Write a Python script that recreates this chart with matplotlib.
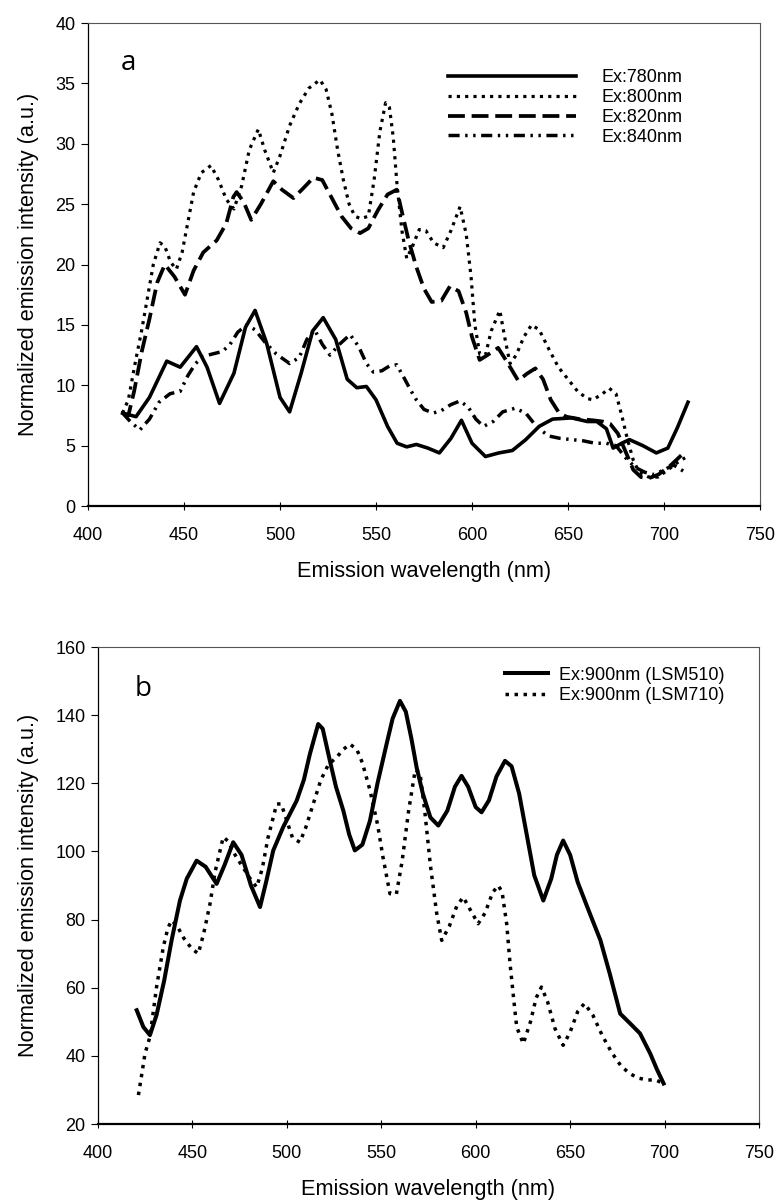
import matplotlib
matplotlib.use('Agg')
import matplotlib.pyplot as plt

plt.rcParams['font.family'] = ['Liberation Sans', 'DejaVu Sans']

# ---- panel a : emission spectra at four excitation wavelengths ----
x780 = [418, 425, 432, 441, 448, 456.5, 462, 468.5, 476, 482, 487, 493, 500, 505, 511, 517, 522.5, 529, 535,
        540, 545, 550, 556, 561, 566, 571, 577, 583, 589, 594.5, 600, 607, 614, 621, 628, 635, 642, 652, 660,
        665, 670, 673.5, 678, 682, 689, 696, 702, 707, 712.5]
y780 = [7.7, 7.4, 9.0, 12.0, 11.5, 13.2, 11.5, 8.5, 11.0, 14.8, 16.2, 13.5, 9.0, 7.8, 11.0, 14.5, 15.6, 13.8, 10.5,
        9.8, 9.9, 8.8, 6.6, 5.2, 4.9, 5.1, 4.8, 4.4, 5.6, 7.1, 5.2, 4.1, 4.4, 4.6, 5.5, 6.6, 7.2, 7.3, 7.0,
        7.0, 6.4, 4.8, 5.2, 5.5, 5.0, 4.4, 4.8, 6.5, 8.6]

x800 = [418, 421, 424.5, 428, 431, 434, 437.5, 440, 443, 446, 449, 452, 455, 459, 464, 468, 472, 476, 480, 484,
        488.7, 492, 496.5, 500, 505, 510, 515, 520.8, 524, 527, 530, 533, 536, 539, 542, 546, 549, 552, 555,
        557, 559, 561, 563.5, 566, 569, 572.5, 576, 580, 585, 589, 593.8, 597, 599.5, 601.5, 604, 607, 610,
        614.5, 617, 619.8, 623, 627, 631, 635, 640, 645, 650, 655, 660, 663, 668, 671.5, 675, 678, 681, 684,
        687, 692, 697, 702, 707, 711]
y800 = [7.7, 8.8, 11.8, 14.6, 17.3, 20.0, 21.8, 21.5, 20.2, 19.6, 21.0, 23.5, 26.0, 27.6, 28.2, 27.0, 25.4, 24.6,
        26.5, 29.5, 31.2, 29.5, 27.6, 29.0, 31.5, 33.3, 34.6, 35.3, 34.5, 32.5, 29.5, 27.0, 25.0, 24.0, 23.8,
        24.0, 27.0, 31.0, 33.4, 33.0, 30.5, 26.5, 22.8, 20.5, 21.5, 22.9, 22.8, 21.8, 21.4, 22.8, 24.8, 22.5,
        19.0, 15.0, 12.6, 12.5, 14.5, 16.2, 14.0, 11.8, 12.5, 14.0, 15.0, 14.6, 13.0, 11.5, 10.5, 9.5, 8.9,
        8.8, 9.3, 9.75, 9.3, 7.5, 5.5, 3.8, 2.8, 2.4, 2.4, 3.0, 3.6, 4.0]

x820 = [418, 421, 424, 428, 432, 436, 440, 445, 450.5, 455, 460, 467, 472, 475.7, 477.4, 481, 485, 490, 496.5,
        501, 507, 512, 517.4, 522, 527, 532, 537, 541.7, 546, 551, 556, 560.8, 564, 567, 571, 575, 579, 584,
        588.5, 593, 597, 600, 604, 608, 613.6, 618, 624, 629, 633, 637, 641, 645, 649, 656, 663, 668, 672,
        676, 680, 684, 688, 692, 697, 703, 709]
y820 = [7.7, 7.5, 9.5, 12.8, 15.5, 18.5, 20.0, 19.0, 17.5, 19.5, 21.0, 22.0, 23.4, 25.6, 26.0, 25.2, 23.7, 25.0,
        26.9, 26.2, 25.5, 26.3, 27.2, 27.0, 25.5, 24.0, 23.0, 22.6, 23.0, 24.5, 25.8, 26.2, 24.0, 22.0, 19.8,
        18.0, 16.9, 17.0, 18.2, 17.8, 16.0, 14.0, 12.1, 12.5, 13.1, 12.0, 10.4, 11.0, 11.4, 10.5, 8.8, 7.8,
        7.4, 7.2, 7.1, 7.0, 6.8, 6.0, 4.5, 3.0, 2.4, 2.3, 2.6, 3.3, 4.2]

x840 = [418, 422, 427, 432, 437, 442.7, 448, 452, 456, 460, 465, 470, 474, 478, 482.6, 487, 492, 498, 505, 510,
        514, 518, 522, 526, 531, 536.5, 541, 545, 548.6, 553, 557, 560.8, 565, 568, 571, 575, 579.8, 584, 589,
        593.7, 598, 602, 606, 611, 616, 622.4, 628, 634, 640, 646, 652, 658, 664, 670, 675, 680, 685, 690,
        695, 700, 705, 711]
y840 = [7.7, 7.0, 6.3, 7.2, 8.6, 9.3, 9.5, 10.8, 11.8, 12.4, 12.6, 12.8, 13.4, 14.4, 15.0, 14.6, 13.6, 12.6,
        11.8, 12.3, 13.8, 14.6, 13.4, 12.5, 13.4, 14.2, 13.2, 11.8, 11.1, 11.2, 11.6, 11.7, 10.5, 9.6, 8.8,
        8.0, 7.7, 7.9, 8.4, 8.7, 8.2, 7.2, 6.6, 7.0, 7.8, 8.1, 7.7, 6.5, 5.8, 5.6, 5.5, 5.4, 5.2, 5.2, 5.0,
        4.0, 3.2, 2.8, 2.6, 3.0, 3.4, 2.8]

# ---- panel b : 900 nm excitation on two microscopes ----
x510 = [420.5, 424, 427.5, 431, 435, 439, 443.4, 447, 452.2, 457, 462.8, 467, 471.6, 476, 481, 485.8, 489,
        492.8, 498, 505.2, 509, 512.2, 516.6, 519, 522.8, 526, 529.9, 533, 536, 540, 544, 548, 552.8, 556,
        559.9, 563, 566, 568.7, 572, 576, 580.2, 585, 589, 592.5, 596, 600, 603.1, 607, 611, 615.5, 619, 623,
        627, 631, 635.8, 640, 643, 646.3, 650, 654, 658.6, 661, 666, 671, 676.5, 681.8, 687, 692.4, 696, 699.5]
y510 = [53.4, 48.5, 46.1, 52, 62, 74, 85.6, 92, 97.3, 95.5, 90.5, 96, 102.7, 99, 90, 83.7, 91, 100.3, 107.1,
        114.9, 121, 128.6, 137.4, 136, 126.6, 119, 112, 105, 100.3, 102, 109, 120, 131.5, 139, 144.2, 141, 133,
        124.7, 117, 110, 107.6, 112, 119, 122.2, 119, 113, 111.5, 115, 122, 126.6, 125, 117, 105, 93, 85.6, 92,
        99, 103.2, 99, 91, 84.4, 81, 74, 64.1, 52.4, 49.5, 46.6, 40.7, 36, 31.9]

x710 = [421.4, 423, 424.9, 427.5, 431, 434.6, 437, 439, 442, 445.5, 449.6, 453.1, 456, 459.3, 462, 466.3, 469,
        472, 476, 480, 484, 487, 490, 494.6, 497, 500, 503, 506.9, 510, 514, 518, 522, 526.3, 530, 533.4, 537,
        540, 544, 548, 551, 554.6, 558, 561, 564.5, 568, 570.5, 573, 576, 579.3, 582, 586, 590, 593.4, 597,
        601.3, 605, 609, 612, 614, 616.4, 618.2, 620, 621.7, 625.2, 629, 632, 634.8, 638, 642, 646.3, 650, 654,
        657.6, 662, 667, 672, 677, 681.6, 686, 691.2, 695, 699.5]
y710 = [28.5, 34, 40.7, 45.6, 60.2, 72, 77.5, 79.8, 78, 74.5, 71.5, 70, 76, 84.6, 94, 104.2, 103, 99.5, 96,
        92.5, 89.5, 95, 104, 113.9, 114, 109, 104, 102.7, 107, 114, 121, 125.5, 127.6, 130, 131.5, 130, 126,
        118, 108, 98, 87.6, 87.5, 97, 112, 124, 123, 112, 96, 82, 73.9, 78, 84, 86.6, 83, 78.8, 82, 88, 90,
        88, 78.8, 67, 57.3, 48.5, 43.6, 50, 57, 60.2, 56, 48, 43.1, 47, 53, 55.4, 52, 46, 41, 37, 34.8, 33.5,
        32.9, 33.0, 31.9]

xticks = [400, 450, 500, 550, 600, 650, 700, 750]

fig = plt.figure(figsize=(7.79, 12), dpi=100)
ax1 = fig.add_axes([0.1130, 0.5783, 0.8626, 0.4025])
ax2 = fig.add_axes([0.1258, 0.0633, 0.8485, 0.3975])

dotted = (0, (1, 1.6))
dashed = (0, (4.5, 1.8))
dashdotdot = (0, (3.2, 1.6, 0.7, 1.6, 0.7, 1.6))

ax1.plot(x780, y780, color='k', lw=2.6, label='Ex:780nm')
ax1.plot(x800, y800, color='k', lw=2.3, ls=dotted, label='Ex:800nm')
ax1.plot(x820, y820, color='k', lw=2.7, ls=dashed, label='Ex:820nm')
ax1.plot(x840, y840, color='k', lw=2.5, ls=dashdotdot, label='Ex:840nm')

ax2.plot(x510, y510, color='k', lw=2.9, label='Ex:900nm (LSM510)')
ax2.plot(x710, y710, color='k', lw=2.5, ls=dotted, label='Ex:900nm (LSM710)')

for ax, ylim, yt in [(ax1, (0, 40), range(0, 41, 5)), (ax2, (20, 160), range(20, 161, 20))]:
    ax.set_xlim(400, 750)
    ax.set_ylim(*ylim)
    ax.set_xticks(xticks)
    ax.set_yticks(list(yt))
    ax.tick_params(axis='x', direction='inout', length=6, width=0.8, pad=12, labelsize=13)
    ax.tick_params(axis='y', direction='out', length=5, width=0.8, pad=4, labelsize=13)
    ax.spines['bottom'].set_linewidth(1.6)
    ax.spines['left'].set_linewidth(0.9)
    for s in ['top', 'right']:
        ax.spines[s].set_linewidth(0.8)
        ax.spines[s].set_color('#555555')
    ax.set_xlabel('Emission wavelength (nm)', fontsize=15.7, labelpad=12)
    ax.set_ylabel('Normalized emission intensity (a.u.)', fontsize=15.7, labelpad=12)

ax1.text(420.8, 36.7, 'a', fontsize=20, family='Open Sans', ha='center', va='center')
ax2.text(423.8, 147.7, 'b', fontsize=20, family='Open Sans', ha='center', va='center')

ax1.legend(loc='upper left', bbox_to_anchor=(0.536, 0.904), frameon=False, fontsize=13,
           handlelength=7.1, handletextpad=1.4, labelspacing=0.15, borderpad=0, borderaxespad=0)
ax2.legend(loc='upper left', bbox_to_anchor=(0.616, 0.959), frameon=False, fontsize=13,
           handlelength=2.4, handletextpad=0.6, labelspacing=0.2, borderpad=0, borderaxespad=0)

plt.savefig('out.png', dpi=100)
